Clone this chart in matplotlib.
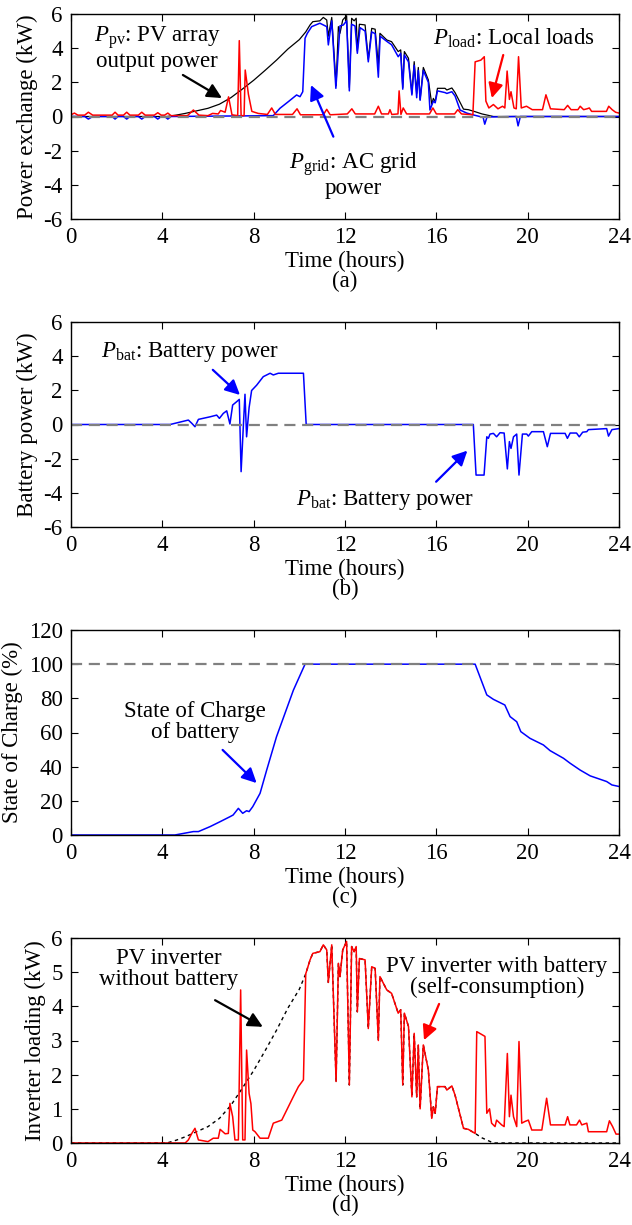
import numpy as np
import matplotlib
matplotlib.use("Agg")
import matplotlib.pyplot as plt

# ---------------- data (hours, value) ----------------
pv_knots = [(0, 0), (4.2, 0), (4.6, 0.08), (5.0, 0.18), (5.5, 0.33), (6.0, 0.48), (6.5, 0.72),
            (7.0, 1.1), (7.5, 1.6), (8.0, 2.12), (8.5, 2.7), (9.0, 3.3), (9.5, 3.95), (10.0, 4.5),
            (10.28, 4.95), (10.47, 5.36), (10.59, 5.55), (10.9, 5.6), (11.05, 5.8), (11.2, 5.65),
            (11.27, 4.7), (11.42, 5.8), (11.61, 1.8), (11.71, 5.26), (11.78, 4.87), (11.9, 5.65),
            (12.07, 5.9), (12.19, 1.7), (12.29, 5.75), (12.4, 5.6), (12.49, 5.75), (12.54, 3.84),
            (12.63, 5.4), (12.88, 5.36), (13.02, 3.35), (13.17, 5.16), (13.32, 5.11), (13.46, 3.0),
            (13.53, 4.87), (13.83, 4.48), (14.04, 4.38), (14.33, 3.8), (14.44, 3.9), (14.53, 1.7),
            (14.6, 3.8), (14.78, 3.41), (14.93, 1.35), (15.03, 3.21), (15.14, 1.35), (15.21, 2.87),
            (15.29, 1.0), (15.43, 2.87), (15.65, 2.14), (15.8, 0.72), (15.87, 1.06), (15.95, 0.87),
            (16.05, 1.65), (16.38, 1.65), (16.46, 1.55), (16.68, 1.67), (16.82, 1.4), (17.19, 0.43),
            (17.4, 0.4), (17.7, 0.28), (18.0, 0.15), (18.5, 0.0), (24, 0)]

grid_knots = [(0, 0), (0.6, 0), (0.76, -0.15), (0.95, 0), (1.8, 0), (1.93, -0.15), (2.06, 0),
              (2.3, 0), (2.44, -0.15), (2.58, 0), (2.95, 0), (3.1, -0.15), (3.25, 0), (3.65, 0),
              (3.8, -0.15), (3.95, 0), (4.1, 0), (4.24, -0.15), (4.38, 0), (8.86, 0.05),
              (9.15, 0.48), (9.52, 0.87), (9.88, 1.26), (10.03, 1.16), (10.15, 1.45), (10.25, 4.58),
              (10.35, 4.87), (10.54, 5.26), (10.9, 5.46), (11.2, 5.26), (11.27, 4.19), (11.42, 5.6),
              (11.6, 1.65), (11.78, 5.3), (11.93, 5.36), (12.07, 5.6), (12.19, 1.5), (12.29, 5.4),
              (12.44, 5.3), (12.54, 3.7), (12.66, 5.2), (12.88, 5.0), (13.02, 3.2), (13.17, 4.95),
              (13.32, 4.85), (13.46, 2.3), (13.54, 4.7), (13.83, 4.4), (14.04, 4.2), (14.33, 3.5),
              (14.44, 3.7), (14.53, 1.6), (14.6, 3.6), (14.78, 3.2), (14.93, 1.26), (15.03, 3.0),
              (15.14, 1.1), (15.21, 2.7), (15.29, 0.95), (15.43, 2.7), (15.65, 2.0), (15.72, 0.38),
              (15.87, 0.9), (15.95, 0.8), (16.05, 1.5), (16.38, 1.4), (16.46, 1.35), (16.68, 1.45),
              (16.82, 1.2), (17.04, 0.38), (17.33, 0.2), (17.6, 0.1), (17.9, 0.0), (18.05, -0.05),
              (18.12, -0.45), (18.22, -0.03), (19.5, 0), (19.58, -0.55), (19.68, 0), (24, 0)]

load_knots = [(0, 0.1), (0.15, 0.2), (0.3, 0.08), (0.6, 0.08), (0.76, 0.25), (0.95, 0.08),
              (1.8, 0.08), (1.93, 0.25), (2.06, 0.08), (2.3, 0.08), (2.44, 0.25), (2.58, 0.08),
              (2.95, 0.08), (3.1, 0.25), (3.25, 0.08), (3.65, 0.08), (3.8, 0.22), (3.95, 0.08),
              (4.1, 0.08), (4.24, 0.2), (4.38, 0.05), (5.1, 0.05), (5.36, 0.38), (5.6, 0.08),
              (6.0, 0.05), (6.2, 0.18), (6.45, 0.15), (6.55, 0.35), (6.75, 0.25), (6.9, 1.15),
              (7.05, 0.1), (7.3, 0.05), (7.37, 4.44), (7.45, 0.05), (7.58, 0.05), (7.63, 2.72),
              (7.77, 1.3), (7.92, 0.3), (8.2, 0.18), (8.6, 0.12), (8.79, 0.5), (8.95, 0.12),
              (9.7, 0.12), (9.9, 0.45), (10.05, 0.1), (11.05, 0.1), (11.2, 0.42), (11.35, 0.1),
              (12.1, 0.15), (12.3, 0.45), (12.45, 0.15), (13.3, 0.15), (13.46, 0.6), (13.6, 0.15),
              (13.9, 0.15), (13.97, 0.4), (14.05, 0.12), (14.32, 0.15), (14.37, 1.5), (14.45, 0.12),
              (14.55, 0.5), (14.7, 0.15), (15.7, 0.15), (15.85, 0.5), (16.0, 0.15), (16.8, 0.15),
              (16.94, 0.4), (17.1, 0.15), (17.6, 0.1), (17.7, 3.2), (17.95, 3.3), (18.1, 3.5),
              (18.17, 0.9), (18.3, 0.5), (18.5, 0.7), (18.7, 0.45), (18.9, 0.6), (19.0, 0.5),
              (19.1, 2.66), (19.2, 1.0), (19.27, 1.45), (19.4, 0.5), (19.5, 0.45), (19.6, 3.5),
              (19.72, 0.5), (19.95, 0.6), (20.2, 0.4), (20.65, 0.4), (20.8, 1.27), (21.0, 0.45),
              (21.6, 0.4), (21.75, 0.65), (21.9, 0.4), (22.2, 0.4), (22.3, 0.6), (22.45, 0.4),
              (22.6, 0.45), (22.7, 0.5), (22.8, 0.3), (23.45, 0.3), (23.55, 0.6), (23.7, 0.4),
              (23.85, 0.25), (24, 0.2)]

bat_knots = [(0, 0), (4.34, 0), (5.14, 0.26), (5.29, 0.07), (5.43, -0.13), (5.58, 0.3), (6.09, 0.45),
             (6.38, 0.55), (6.5, 0.36), (6.67, 0.65), (6.82, 0.8), (6.96, 0.03), (7.08, 1.14),
             (7.26, 1.34), (7.37, 1.47), (7.45, -2.76), (7.55, -0.03), (7.62, 1.77), (7.69, -0.72),
             (7.8, 0.99), (7.91, 1.99), (8.13, 2.3), (8.42, 2.8), (8.72, 3.0), (8.86, 2.9),
             (9.08, 3.0), (10.18, 3.0), (10.3, 0), (17.62, 0), (17.74, -2.96), (18.09, -2.96),
             (18.21, -0.72), (18.28, -0.81), (18.35, -0.56), (18.5, -0.52), (18.64, -0.72),
             (18.79, -0.48), (18.97, -0.5), (19.11, -2.6), (19.2, -1.0), (19.27, -1.4),
             (19.38, -0.72), (19.52, -0.56), (19.62, -2.96), (19.77, -0.56), (19.96, -0.56),
             (20.03, -0.68), (20.18, -0.42), (20.69, -0.42), (20.86, -1.3), (21.0, -0.52),
             (21.64, -0.52), (21.74, -0.81), (21.86, -0.5), (22.14, -0.5), (22.26, -0.72),
             (22.41, -0.45), (22.59, -0.42), (22.66, -0.3), (23.46, -0.24), (23.54, -0.68),
             (23.69, -0.3), (24, -0.24)]

soc_knots = [(0, 0), (4.55, 0), (5.36, 2.0), (5.58, 2.0), (6.09, 4.9), (6.53, 7.8), (6.96, 10.7),
             (7.1, 11.7), (7.33, 15.6), (7.52, 12.7), (7.69, 14.2), (7.8, 13.7), (7.96, 16.6),
             (8.28, 24.4), (8.57, 38), (9.0, 57.5), (9.74, 84.8), (10.25, 100), (17.7, 100),
             (18.21, 82), (18.5, 79.4), (19.0, 76.1), (19.23, 69.3), (19.52, 66.3), (19.7, 60.5),
             (20.1, 56.6), (20.69, 52.7), (20.98, 49.4), (21.57, 44.9), (21.86, 42), (22.3, 38),
             (22.74, 34.6), (23.46, 31.3), (23.69, 29.3), (24, 28.4)]

inv_early_knots = [(0, 0), (5.0, 0), (5.14, 0.09), (5.29, 0.28), (5.43, 0.43), (5.58, 0.09),
                   (6.0, 0.04), (6.23, 0.14), (6.45, 0.14), (6.53, 0.4), (6.75, 0.27), (6.89, 0.28),
                   (6.96, 1.16), (7.08, 0.77), (7.18, 0.09), (7.33, 0.09), (7.43, 4.48), (7.52, 0.09),
                   (7.62, 0.09), (7.69, 2.72), (7.8, 1.45), (7.88, 1.15), (7.96, 0.38), (8.06, 0.33),
                   (8.28, 0.14), (8.64, 0.14), (8.86, 0.58), (9.23, 0.67), (9.74, 1.36),
                   (9.96, 1.65), (10.18, 1.85)]

inv_late_knots = [(17.7, 0.28), (17.77, 3.26), (18.13, 3.12), (18.21, 0.87), (18.33, 1.0),
                  (18.42, 0.58), (18.57, 0.48), (18.64, 0.67), (18.86, 0.53), (18.97, 0.48),
                  (19.11, 2.62), (19.2, 0.77), (19.27, 1.4), (19.38, 0.77), (19.52, 0.48),
                  (19.62, 2.97), (19.74, 0.58), (19.88, 0.63), (20.03, 0.67), (20.18, 0.38),
                  (20.62, 0.38), (20.83, 1.31), (21.0, 0.53), (21.64, 0.53), (21.75, 0.77),
                  (21.85, 0.53), (22.14, 0.53), (22.27, 0.67), (22.37, 0.53), (22.59, 0.58),
                  (22.66, 0.33), (22.88, 0.33), (23.05, 0.33), (23.17, 0.33), (23.46, 0.33),
                  (23.58, 0.65), (23.72, 0.48), (23.87, 0.26), (24.0, 0.26)]

x_ticks = [0, 4, 8, 12, 16, 20, 24]

# ---------------- style ----------------
plt.rcParams['font.family'] = ['Liberation Serif', 'DejaVu Serif']
plt.rcParams['mathtext.fontset'] = 'custom'
plt.rcParams['mathtext.rm'] = 'Liberation Serif'
plt.rcParams['mathtext.it'] = 'Liberation Serif:italic'
plt.rcParams['axes.unicode_minus'] = False
FS = 16.5
plt.rcParams['font.size'] = FS

def arr(k):
    a = np.array(k, dtype=float)
    return a[:, 0], a[:, 1]

t_pv, p_pv = arr(pv_knots)
t_grid, p_grid = arr(grid_knots)
t_load, p_load = arr(load_knots)
t_bat, p_bat = arr(bat_knots)
t_soc, soc = arr(soc_knots)
t_ie, v_ie = arr(inv_early_knots)
t_il, v_il = arr(inv_late_knots)
mask = (t_pv > 10.2) & (t_pv < 17.7)
t_inv = np.concatenate([t_ie, t_pv[mask], t_il])
v_inv = np.concatenate([v_ie, p_pv[mask], v_il])

fig = plt.figure(figsize=(6.32, 12.25), dpi=100)
L, W, H = 71 / 632, 548 / 632, 205 / 1225
bottoms = [1 - 219 / 1225, 1 - 527 / 1225, 1 - 835 / 1225, 1 - 1143 / 1225]
axes = [fig.add_axes([L, b, W, H]) for b in bottoms]

GRAY = '#808080'
BLUE = '#0000ff'
RED = '#ff0000'

def style(ax, letter, ylim, yticks, ylabel):
    ax.set_xlim(0, 24)
    ax.set_ylim(*ylim)
    ax.set_xticks(x_ticks)
    ax.set_yticks(yticks)
    ax.tick_params(direction='in', top=True, right=True, length=5, width=0.8,
                   labelsize=FS, pad=6)
    for s in ax.spines.values():
        s.set_linewidth(1.0)
    ax.set_xlabel('Time (hours)\n' + letter, fontsize=FS, linespacing=0.9, labelpad=2)
    ax.set_ylabel(ylabel, fontsize=FS, labelpad=4)

def arrow(ax, head, tail, color):
    ax.annotate('', xy=head, xytext=tail,
                arrowprops=dict(arrowstyle='-|>', color=color, lw=1.6,
                                mutation_scale=22, shrinkA=0, shrinkB=0))

# (a)
ax = axes[0]
ax.plot(t_pv, p_pv, color='black', lw=0.9)
ax.plot(t_grid, p_grid, color=BLUE, lw=1.1)
ax.plot(t_load, p_load, color=RED, lw=1.1)
ax.axhline(0, color=GRAY, lw=1.6, dashes=(5, 3))
style(ax, '(a)', (-6, 6), [-6, -4, -2, 0, 2, 4, 6], 'Power exchange (kW)')
ax.text(3.77, 4.0, '$P_{\\mathrm{pv}}$: PV array\noutput power', ha='center', va='center',
        fontsize=FS, linespacing=1.0)
arrow(ax, (6.61, 1.08), (4.9, 2.43), 'black')
ax.text(12.35, -3.4, '$P_{\\mathrm{grid}}$: AC grid\npower', ha='center', va='center',
        fontsize=FS, linespacing=1.0)
arrow(ax, (10.51, 1.84), (11.49, -1.18), BLUE)
ax.text(19.38, 4.6, '$P_{\\mathrm{load}}$: Local loads', ha='center', va='center', fontsize=FS)
arrow(ax, (18.43, 1.08), (18.93, 3.6), RED)

# (b)
ax = axes[1]
ax.plot(t_bat, p_bat, color=BLUE, lw=1.1)
ax.axhline(0, color=GRAY, lw=1.6, dashes=(5, 3))
style(ax, '(b)', (-6, 6), [-6, -4, -2, 0, 2, 4, 6], 'Battery power (kW)')
ax.text(5.23, 4.24, '$P_{\\mathrm{bat}}$: Battery power', ha='center', va='center', fontsize=FS)
arrow(ax, (7.4, 1.73), (6.21, 3.2), BLUE)
ax.text(13.75, -4.42, '$P_{\\mathrm{bat}}$: Battery power', ha='center', va='center', fontsize=FS)
arrow(ax, (17.36, -1.53), (15.99, -3.35), BLUE)

# (c)
ax = axes[2]
ax.plot(t_soc, soc, color=BLUE, lw=1.1)
ax.axhline(100, color=GRAY, lw=1.6, dashes=(5, 3))
style(ax, '(c)', (0, 120), [0, 20, 40, 60, 80, 100, 120], 'State of Charge (%)')
ax.text(5.43, 66.2, 'State of Charge\nof battery', ha='center', va='center', fontsize=FS,
        linespacing=1.0)
arrow(ax, (8.13, 30.4), (6.64, 49.8), BLUE)

# (d)
ax = axes[3]
ax.plot(t_pv, p_pv, color='black', lw=1.0, ls=(0, (2.5, 2.5)))
ax.plot(t_inv, v_inv, color=RED, lw=1.1)
style(ax, '(d)', (0, 6), [0, 1, 2, 3, 4, 5, 6], 'Inverter loading (kW)')
ax.text(4.29, 5.09, 'PV inverter\nwithout battery', ha='center', va='center', fontsize=FS,
        linespacing=1.0)
arrow(ax, (8.4, 3.4), (6.31, 4.18), 'black')
ax.text(18.66, 4.86, 'PV inverter with battery\n(self-consumption)', ha='center', va='center',
        fontsize=FS, linespacing=1.0)
arrow(ax, (15.46, 3.01), (16.12, 4.07), RED)

fig.savefig('out.png', dpi=100)
